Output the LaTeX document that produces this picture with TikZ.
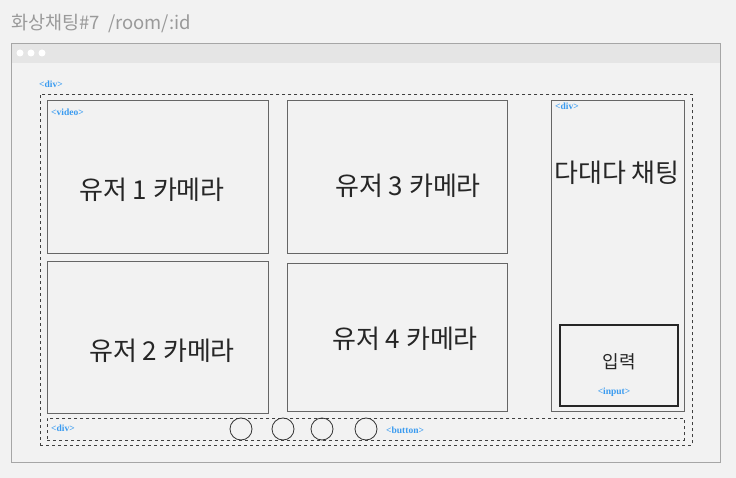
\documentclass[tikz,border=0pt]{standalone}
\usepackage{fontspec}
\newfontfamily\kr{Noto Sans CJK KR}
\newfontfamily\tagfont{Liberation Serif}
\definecolor{pagebg}{HTML}{F2F2F2}
\definecolor{barbg}{HTML}{E5E5E5}
\definecolor{framegray}{HTML}{A6A6A6}
\definecolor{boxgray}{HTML}{666666}
\definecolor{tagblue}{HTML}{3A9BF0}
\definecolor{titlegray}{HTML}{9A9A9A}
\tikzset{
  box/.style={draw=boxgray, line width=1pt, fill=pagebg, anchor=north west, inner sep=0pt},
  divbox/.style={draw=black!75, dashed, line width=0.8pt, anchor=north west, inner sep=0pt},
  tag/.style={text=tagblue, font=\tagfont\bfseries\fontsize{9.5}{10}\selectfont, inner sep=0pt},
  camtext/.style={font=\kr\fontsize{26}{28}\selectfont, text=black!85, inner sep=0pt},
  btn/.style={circle, draw=black!80, line width=0.8pt, minimum size=22pt, inner sep=0pt},
}
\begin{document}
\begin{tikzpicture}[x=1pt,y=-1pt]
  \useasboundingbox[fill=pagebg] (0,0) rectangle (736,478);
  % title
  \node[anchor=west, text=titlegray, font=\kr\fontsize{18.5}{20}\selectfont, inner sep=0pt] (title) at (11,24) {화상채팅\#7\ \ /room/:id};
  % browser window
  \draw[framegray, line width=1pt, fill=pagebg] (11.5,43.5) rectangle (720.5,462.5);
  \fill[barbg] (12,44) rectangle (720,63);
  \foreach \x in {20,31,42}
    \fill[white] (\x,53) circle (3.5);
  % outer div
  \node[tag, anchor=west] (divtag) at (39,84) {<div>};
  \node[divbox, minimum width=652pt, minimum height=351pt] (outer) at (40,94) {};
  % cameras
  \node[box, minimum width=221pt, minimum height=153pt] (cam1) at (47,100) {};
  \node[box, minimum width=220pt, minimum height=153pt] (cam3) at (287,100) {};
  \node[box, minimum width=221pt, minimum height=152pt] (cam2) at (47,261) {};
  \node[box, minimum width=220pt, minimum height=148pt] (cam4) at (287,263) {};
  \node[tag, anchor=west] (videotag) at (51,112) {<video>};
  \node[camtext] (cam1text) at (152,190) {유저 1 카메라};
  \node[camtext] (cam3text) at (408,186) {유저 3 카메라};
  \node[camtext] (cam2text) at (162,351) {유저 2 카메라};
  \node[camtext] (cam4text) at (405,339) {유저 4 카메라};
  % chat
  \node[box, minimum width=133pt, minimum height=311pt] (chat) at (551,100) {};
  \node[tag, anchor=west] (chattag) at (555,106) {<div>};
  \node[camtext] (chattext) at (617,173) {다대다 채팅};
  \node[draw=black!85, line width=2pt, anchor=north west, minimum width=118pt, minimum height=81pt, inner sep=0pt] (input) at (559,324) {};
  \node[font=\kr\fontsize{18}{20}\selectfont, text=black!85, inner sep=0pt] (inputtext) at (619,362) {입력};
  \node[tag] (inputtag) at (614,392) {<input>};
  % buttons
  \node[divbox, minimum width=637pt, minimum height=22pt] (btnbar) at (47,418) {};
  \node[tag, anchor=west] (bartag) at (51,428) {<div>};
  \node[btn] (b1) at (241,429) {};
  \node[btn] (b2) at (283,429) {};
  \node[btn] (b3) at (322,429) {};
  \node[btn] (b4) at (366,429) {};
  \node[tag, anchor=west] (btntag) at (386,430) {<button>};
\end{tikzpicture}
\end{document}
